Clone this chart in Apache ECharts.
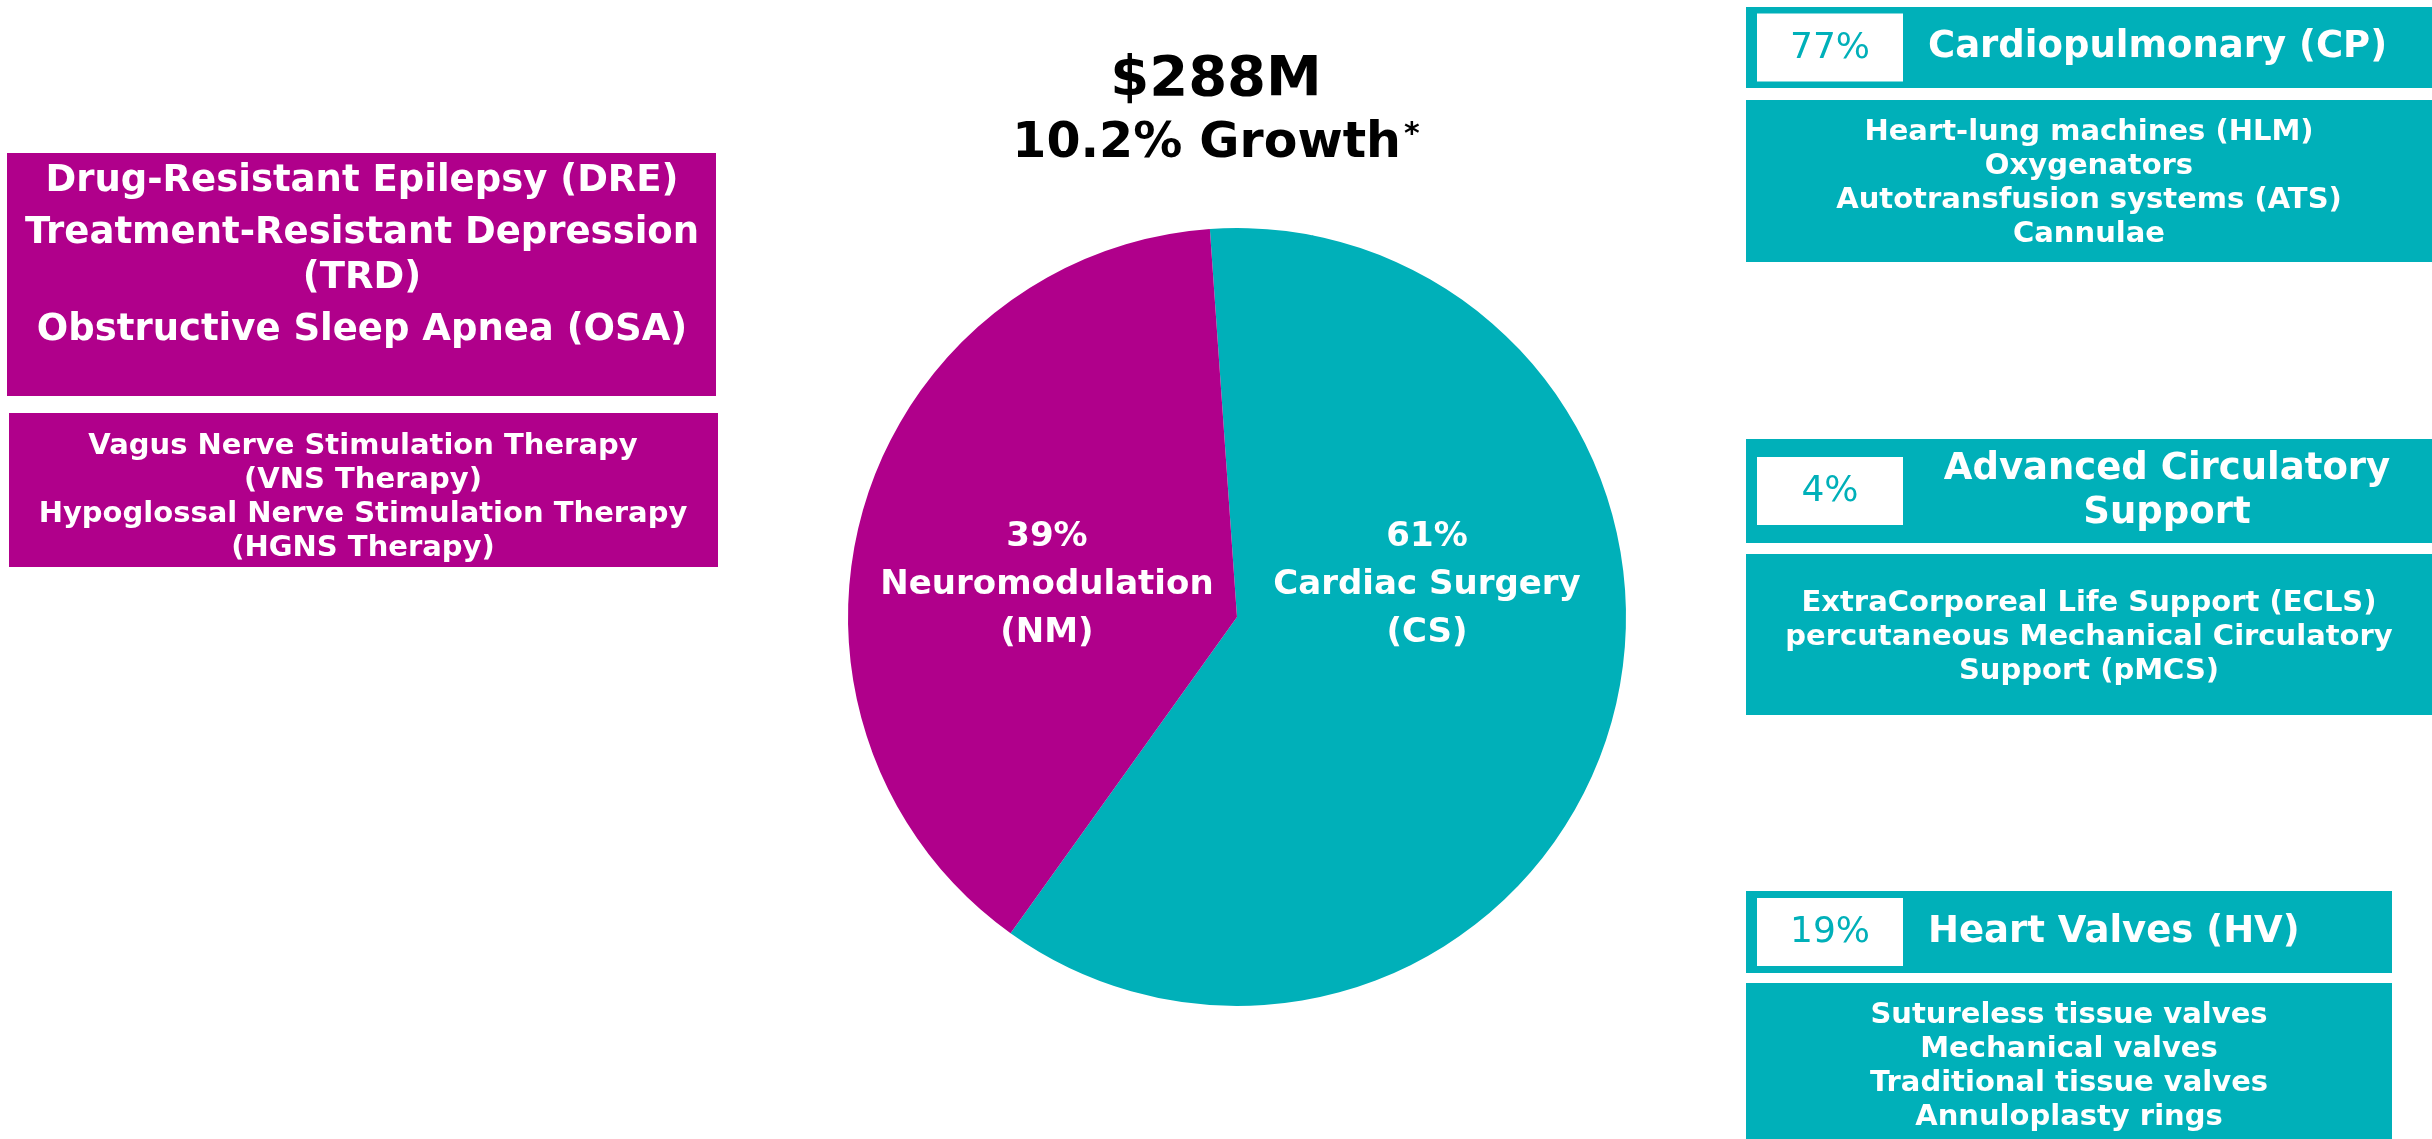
<!DOCTYPE html>
<html>
<head>
<meta charset="utf-8">
<title>Revenue by segment</title>
<script src="https://cdn.jsdelivr.net/npm/echarts@6/dist/echarts.min.js"></script>
<style>
html, body { margin: 0; padding: 0; background: #fff; }
#chart { width: 2432px; height: 1139px; }
</style>
</head>
<body>
<div id="chart"></div>
<script>
// revenue split between the two segments
var segments = ['Cardiac Surgery (CS)', 'Neuromodulation (NM)'];
var segmentShare = [61, 39];
var totalRevenue = '$288M';
var growthText = '10.2% Growth';

// neuromodulation: indications and therapies
var nmIndications = ['Drug-Resistant Epilepsy (DRE)', 'Treatment-Resistant Depression\n(TRD)', 'Obstructive Sleep Apnea (OSA)'];
var nmTherapies = ['Vagus Nerve Stimulation Therapy\n(VNS Therapy)', 'Hypoglossal Nerve Stimulation Therapy\n(HGNS Therapy)'];

// cardiac surgery: business units, their share and products
var csUnits = ['Cardiopulmonary (CP)', 'Advanced Circulatory\nSupport', 'Heart Valves (HV)'];
var csUnitShare = [77, 4, 19];
var cpProducts = ['Heart-lung machines (HLM)', 'Oxygenators', 'Autotransfusion systems (ATS)', 'Cannulae'];
var acsProducts = ['ExtraCorporeal Life Support (ECLS)', 'percutaneous Mechanical Circulatory', 'Support (pMCS)'];
var hvProducts = ['Sutureless tissue valves', 'Mechanical valves', 'Traditional tissue valves', 'Annuloplasty rings'];

var TEAL = '#00B0B9';
var MAGENTA = '#B0008B';
var FONT = '"DejaVu Sans", Verdana, sans-serif';

var chart = echarts.init(document.getElementById('chart'));

function rect(x, y, w, h, color) {
    return { type: 'rect', silent: true, shape: { x: x, y: y, width: w, height: h }, style: { fill: color } };
}
function label(x, y, txt, size, weight, color, align, lineHeight) {
    return {
        type: 'text', silent: true, x: x, y: y,
        style: {
            text: txt,
            font: weight + ' ' + size + 'px ' + FONT,
            fill: color,
            align: align, textAlign: align,
            verticalAlign: 'middle', textVerticalAlign: 'middle',
            lineHeight: lineHeight || size * 1.2
        }
    };
}

// boxes on the right side (cardiac surgery units)
var unitProducts = [cpProducts, acsProducts, hvProducts];
var unitBoxes = [
    { headY: 7, headH: 81, bodyY: 100, bodyH: 162, textY: 183, right: 2432, titleX: 1928, titleAlign: 'left' },
    { headY: 439, headH: 104, bodyY: 554, bodyH: 161, textY: 637, right: 2432, titleX: 2167, titleAlign: 'center' },
    { headY: 891, headH: 82, bodyY: 983, bodyH: 170, textY: 1066, right: 2392, titleX: 1928, titleAlign: 'left' }
];
var boxLeft = 1746;

var graphics = [];
// left side (neuromodulation)
graphics.push(rect(7, 153, 709, 243, MAGENTA));
var cursor = 159;
nmIndications.forEach(function (item) {
    var n = item.split('\n').length;
    graphics.push(label(362, cursor + n * 22.5, item, 37, 'bold', '#fff', 'center', 45));
    cursor += n * 45 + 7;
});
graphics.push(rect(9, 413, 709, 154, MAGENTA));
graphics.push(label(363, 497, nmTherapies.join('\n'), 29, 'bold', '#fff', 'center', 34));

unitBoxes.forEach(function (b, i) {
    var mid = b.headY + b.headH / 2;
    graphics.push(rect(boxLeft, b.headY, b.right - boxLeft, b.headH, TEAL));
    graphics.push(rect(1757, mid - 34, 146, 68, '#fff'));
    graphics.push(label(1830, mid + 1, csUnitShare[i] + '%', 36, 'normal', TEAL, 'center'));
    graphics.push(label(b.titleX, mid, csUnits[i], 37, 'bold', '#fff', b.titleAlign, 44));
    graphics.push(rect(boxLeft, b.bodyY, b.right - boxLeft, b.bodyH, TEAL));
    graphics.push(label((boxLeft + b.right) / 2, b.textY, unitProducts[i].join('\n'), 29, 'bold', '#fff', 'center', 34));
});

var option = {
    animation: false,
    backgroundColor: '#fff',
    title: {
        text: '{amt|' + totalRevenue + '}\n{gr|' + growthText + '}{sup|*}',
        left: 'center',
        top: 43,
        textStyle: {
            rich: {
                amt: { fontFamily: FONT, fontWeight: 'bold', fontSize: 56, lineHeight: 64, color: '#000' },
                gr: { fontFamily: FONT, fontWeight: 'bold', fontSize: 49, lineHeight: 64, color: '#000' },
                sup: { fontFamily: FONT, fontWeight: 'bold', fontSize: 30, lineHeight: 64, verticalAlign: 'top', padding: [8, 0, 0, 3], color: '#000' }
            }
        }
    },
    series: [{
        type: 'pie',
        silent: true,
        center: [1237, 617],
        radius: 389,
        startAngle: 94,
        clockwise: true,
        itemStyle: { borderWidth: 0 },
        label: {
            position: 'inside',
            color: '#fff',
            fontFamily: FONT,
            fontWeight: 'bold',
            fontSize: 34,
            lineHeight: 48,
            formatter: function (p) {
                return Math.round(p.percent) + '%\n' + p.name.replace(' (', '\n(');
            }
        },
        labelLayout: function () {
            return { y: 585 };
        },
        data: segments.map(function (name, i) {
            return { name: name, value: segmentShare[i], itemStyle: { color: i === 0 ? TEAL : MAGENTA } };
        })
    }],
    graphic: graphics
};

chart.setOption(option);
</script>
</body>
</html>
